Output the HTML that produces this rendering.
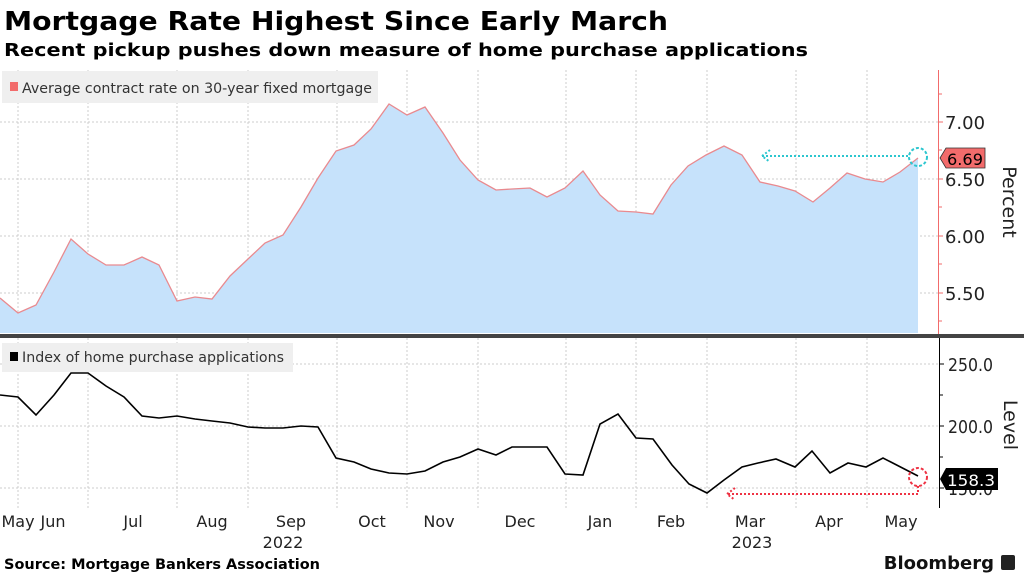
<!DOCTYPE html>
<html><head><meta charset="utf-8"><style>
body{margin:0;background:#fff;width:1024px;height:576px;overflow:hidden;font-family:"DejaVu Sans",sans-serif}
</style></head><body>
<svg width="1024" height="576" viewBox="0 0 1024 576" font-family="DejaVu Sans, sans-serif">
<text x="4" y="30" font-size="26" font-weight="bold" fill="#000" textLength="664" lengthAdjust="spacingAndGlyphs">Mortgage Rate Highest Since Early March</text>
<text x="4" y="56" font-size="18" font-weight="bold" fill="#000" textLength="804" lengthAdjust="spacingAndGlyphs">Recent pickup pushes down measure of home purchase applications</text>
<g stroke="#ccc" stroke-dasharray="2,2" stroke-width="1">
<line x1="18" y1="70" x2="18" y2="508"/><line x1="88" y1="70" x2="88" y2="508"/><line x1="177" y1="70" x2="177" y2="508"/><line x1="248" y1="70" x2="248" y2="508"/><line x1="337" y1="70" x2="337" y2="508"/><line x1="407" y1="70" x2="407" y2="508"/><line x1="478" y1="70" x2="478" y2="508"/><line x1="566" y1="70" x2="566" y2="508"/><line x1="636" y1="70" x2="636" y2="508"/><line x1="707" y1="70" x2="707" y2="508"/><line x1="796" y1="70" x2="796" y2="508"/><line x1="867" y1="70" x2="867" y2="508"/>
<line x1="0" y1="122" x2="938" y2="122"/><line x1="0" y1="179" x2="938" y2="179"/><line x1="0" y1="236" x2="938" y2="236"/><line x1="0" y1="293" x2="938" y2="293"/>
<line x1="0" y1="364" x2="938" y2="364"/><line x1="0" y1="426" x2="938" y2="426"/><line x1="0" y1="488" x2="938" y2="488"/>
</g>
<path d="M0,298 L18,313 36,305 54,272 71,239 88,254 106,265 124,265 142,257 159,265 177,301 195,297 212,299 230,276 248,259 265,243 283,235 301,207 318,178 336,151 354,145 371,129 389,104 407,115 425,107 443,133 460,160 478,180 496,190 512,189 530,188 547,197 565,188 583,171 600,195 618,211 636,212 653,214 671,185 688,166 706,155 724,146 742,155 760,182 778,186 795,191 813,202 830,188 847,173 865,179 883,182 900,172 918,158 L918,333 L0,333 Z" fill="#c6e2fb"/>
<polyline fill="none" stroke="#e98a8f" stroke-width="1.3" points="0,298 18,313 36,305 54,272 71,239 88,254 106,265 124,265 142,257 159,265 177,301 195,297 212,299 230,276 248,259 265,243 283,235 301,207 318,178 336,151 354,145 371,129 389,104 407,115 425,107 443,133 460,160 478,180 496,190 512,189 530,188 547,197 565,188 583,171 600,195 618,211 636,212 653,214 671,185 688,166 706,155 724,146 742,155 760,182 778,186 795,191 813,202 830,188 847,173 865,179 883,182 900,172 918,158"/>
<polyline fill="none" stroke="#000" stroke-width="1.6" points="0,395 18,397 36,415 54,395 71,373 88,373 106,386 124,397 142,416 159,418 177,416 195,419 212,421 230,423 248,427 265,428 283,428 301,426 318,427 336,458 354,462 371,469 389,473 407,474 425,471 443,462 460,457 478,449 496,455 512,447 530,447 547,447 565,474 583,475 600,424 618,414 636,438 653,439 672,465 689,484 707,493 724,480 742,467 758,463 776,459 795,467 812,451 830,473 848,463 866,467 883,458 918,476"/>
<rect x="2" y="71" width="376" height="32" fill="#efefef"/>
<rect x="10" y="82" width="8" height="9" fill="#f26b6b"/>
<text x="22" y="93" font-size="14" fill="#333" textLength="350" lengthAdjust="spacingAndGlyphs">Average contract rate on 30-year fixed mortgage</text>
<rect x="2" y="343" width="291" height="29" fill="#efefef"/>
<rect x="10" y="352" width="8" height="9" fill="#000"/>
<text x="22" y="362" font-size="14" fill="#333" textLength="262" lengthAdjust="spacingAndGlyphs">Index of home purchase applications</text>
<rect x="0" y="334" width="1024" height="4" fill="#444"/>
<line x1="938.5" y1="70" x2="938.5" y2="334" stroke="#f26b6b"/>
<g stroke="#f26b6b"><line x1="938" y1="94" x2="942" y2="94"/><line x1="938" y1="122" x2="943" y2="122"/><line x1="938" y1="150" x2="942" y2="150"/><line x1="938" y1="179" x2="943" y2="179"/><line x1="938" y1="207" x2="942" y2="207"/><line x1="938" y1="236" x2="943" y2="236"/><line x1="938" y1="264" x2="942" y2="264"/><line x1="938" y1="293" x2="943" y2="293"/><line x1="938" y1="321" x2="942" y2="321"/></g>
<g font-size="18" fill="#222"><text x="945" y="129" textLength="40" lengthAdjust="spacingAndGlyphs">7.00</text><text x="945" y="186" textLength="40" lengthAdjust="spacingAndGlyphs">6.50</text><text x="945" y="243" textLength="40" lengthAdjust="spacingAndGlyphs">6.00</text><text x="945" y="300" textLength="40" lengthAdjust="spacingAndGlyphs">5.50</text></g>
<line x1="939.5" y1="338" x2="939.5" y2="508" stroke="#000"/>
<g stroke="#000"><line x1="939" y1="364" x2="944" y2="364"/><line x1="939" y1="395" x2="943" y2="395"/><line x1="939" y1="426" x2="944" y2="426"/><line x1="939" y1="457" x2="943" y2="457"/><line x1="939" y1="488" x2="944" y2="488"/></g>
<g font-size="18" fill="#222"><text x="948" y="371" textLength="45" lengthAdjust="spacingAndGlyphs">250.0</text><text x="948" y="433" textLength="45" lengthAdjust="spacingAndGlyphs">200.0</text><text x="948" y="495" textLength="45" lengthAdjust="spacingAndGlyphs">150.0</text></g>
<text transform="translate(1003,202) rotate(90)" font-size="19" fill="#222" text-anchor="middle">Percent</text>
<text transform="translate(1004,425) rotate(90)" font-size="19" fill="#222" text-anchor="middle">Level</text>
<path d="M940,158 L946,148 L985,148 L985,168 L946,168 Z" fill="#f26b6b" stroke="#333" stroke-width="0.8"/>
<text x="947" y="165" font-size="16" fill="#000" textLength="36" lengthAdjust="spacingAndGlyphs">6.69</text>
<path d="M940,479 L946,468 L998,468 L998,490 L946,490 Z" fill="#000"/>
<text x="947" y="486" font-size="16" fill="#fff" textLength="48" lengthAdjust="spacingAndGlyphs">158.3</text>
<circle cx="918" cy="157" r="9" fill="none" stroke="#2cc6cf" stroke-width="2" stroke-dasharray="3,2"/>
<line x1="908" y1="156" x2="762" y2="156" stroke="#2cc6cf" stroke-width="2" stroke-dasharray="2,2"/>
<polyline points="770,150 762,156 770,162" fill="none" stroke="#2cc6cf" stroke-width="2" stroke-dasharray="2,2"/>
<circle cx="918" cy="477" r="9" fill="none" stroke="#ee3344" stroke-width="2" stroke-dasharray="3,2"/>
<polyline points="918,486 918,494 727,494" fill="none" stroke="#ee3344" stroke-width="2" stroke-dasharray="2,2"/>
<polyline points="735,488 727,494 735,500" fill="none" stroke="#ee3344" stroke-width="2" stroke-dasharray="2,2"/>
<g font-size="16" fill="#222" text-anchor="middle">
<text x="18" y="527">May</text><text x="53" y="527">Jun</text><text x="133" y="527">Jul</text><text x="212" y="527">Aug</text><text x="291" y="527">Sep</text><text x="372" y="527">Oct</text><text x="439" y="527">Nov</text><text x="520" y="527">Dec</text><text x="600" y="527">Jan</text><text x="671" y="527">Feb</text><text x="750" y="527">Mar</text><text x="829" y="527">Apr</text><text x="901" y="527">May</text>
<text x="283" y="548">2022</text><text x="752" y="548">2023</text></g>
<text x="4" y="569" font-size="14" font-weight="bold" fill="#000" textLength="316" lengthAdjust="spacingAndGlyphs">Source: Mortgage Bankers Association</text>
<text x="994" y="569" font-size="18" font-weight="bold" fill="#111" text-anchor="end">Bloomberg</text>
<rect x="1001" y="555" width="14" height="15" rx="2" fill="#222"/>
</svg>
</body></html>
